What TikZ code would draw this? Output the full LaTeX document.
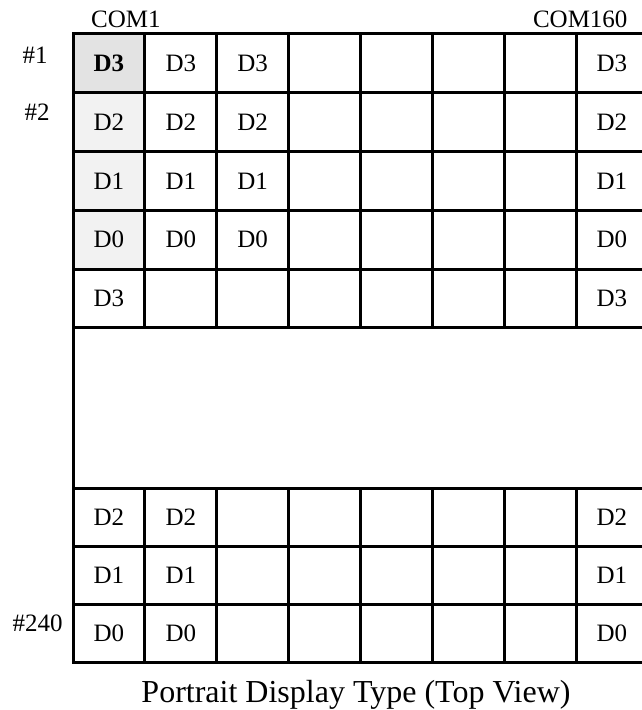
\documentclass[tikz,border=0pt]{standalone}
\usepackage{fontspec}
\setmainfont{Liberation Serif}
\usetikzlibrary{positioning}

\begin{document}
\begin{tikzpicture}[
  x=1pt, y=1pt,
  cell/.style={draw, line width=1.5pt, minimum width=35.93pt, minimum height=29.4pt,
               inner sep=0pt, outer sep=0pt, font=\fontsize{12.5}{14}\selectfont},
  low/.style={cell, minimum height=29pt},
  first/.style={cell, fill=black!5},
  hot/.style={first, fill=black!11, font=\fontsize{12.5}{14}\selectfont\bfseries},
  pin/.style={inner sep=0pt, font=\fontsize{12.5}{14}\selectfont},
  caption/.style={inner sep=0pt, font=\fontsize{16}{19}\selectfont},
]
  \useasboundingbox (0,0) rectangle (320.5,-355);

  % upper rows: #1, #2, ... then one more D3 line
  \foreach \yc/\row [count=\r] in {
      -31.7/{hot/D3,cell/D3,cell/D3,cell/,cell/,cell/,cell/,cell/D3},
      -61.1/{first/D2,cell/D2,cell/D2,cell/,cell/,cell/,cell/,cell/D2},
      -90.5/{first/D1,cell/D1,cell/D1,cell/,cell/,cell/,cell/,cell/D1},
      -119.9/{first/D0,cell/D0,cell/D0,cell/,cell/,cell/,cell/,cell/D0},
      -149.3/{cell/D3,cell/,cell/,cell/,cell/,cell/,cell/,cell/D3}}{
    \foreach \s/\t [count=\c] in \row
      \node[\s] (c-\r-\c) at (18.535+35.93*\c, \yc) {\t};
  }

  % skipped rows
  \node[draw, line width=1.5pt, inner sep=0pt, outer sep=0pt, anchor=north west,
        minimum width=287.44pt, minimum height=80pt] (band) at (c-5-1.south west) {};

  % lower rows, down to #240
  \foreach \yc/\row [count=\r from 6] in {
      -258.5/{low/D2,low/D2,low/,low/,low/,low/,low/,low/D2},
      -287.5/{low/D1,low/D1,low/,low/,low/,low/,low/,low/D1},
      -316.5/{low/D0,low/D0,low/,low/,low/,low/,low/,low/D0}}{
    \foreach \s/\t [count=\c] in \row
      \node[\s] (c-\r-\c) at (18.535+35.93*\c, \yc) {\t};
  }

  % COM and row labels
  \node[pin, above=3pt of c-1-1.north, xshift=8.5pt] (com1) {COM1};
  \node[pin, above left=3pt and 10pt of c-1-8.north east] (com160) {COM160};
  \node[pin, left=12.5pt of c-1-1.west, yshift=4pt] (row1) {\#1};
  \node[pin, left=11.5pt of c-2-1.west, yshift=5pt] (row2) {\#2};
  \node[pin, left=5pt of c-8-1.west, yshift=5pt] (row240) {\#240};

  \node[caption, anchor=base] (title) at (178,-351) {Portrait Display Type (Top View)};
\end{tikzpicture}
\end{document}
